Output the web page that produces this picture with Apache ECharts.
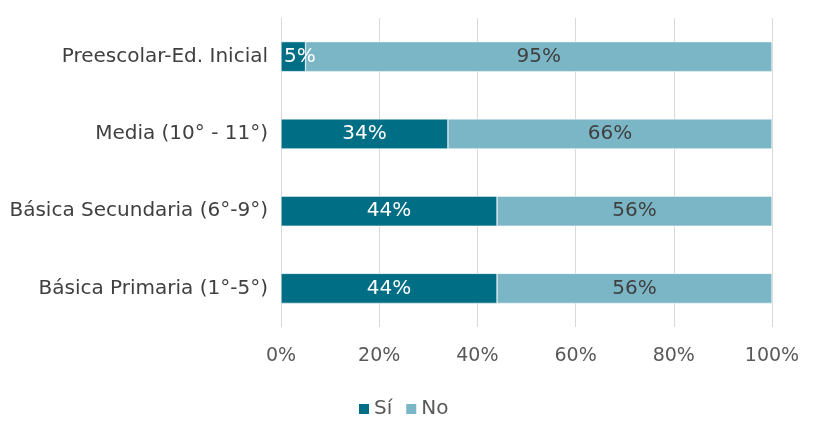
<!DOCTYPE html>
<html><head><meta charset="utf-8">
<script src="https://cdn.jsdelivr.net/npm/echarts@6/dist/echarts.min.js"></script>
<style>html,body{margin:0;padding:0;background:#fff}#c{width:814px;height:422px}</style>
</head><body><div id="c"></div>
<script>
const categories = ['Básica Primaria (1°-5°)', 'Básica Secundaria (6°-9°)', 'Media (10° - 11°)', 'Preescolar-Ed. Inicial'];
const si = [44, 44, 34, 5];
const no = [56, 56, 66, 95];
const xTicks = [0, 20, 40, 60, 80, 100];
const font = '"DejaVu Sans", sans-serif';
const chart = echarts.init(document.getElementById('c'));
chart.setOption({
  animation: false,
  grid: { left: 281, right: 42, top: 18, bottom: 95, containLabel: false },
  legend: {
    top: 399, left: 357, padding: 0, itemWidth: 12, itemHeight: 12, itemGap: 12,
    icon: 'rect',
    textStyle: { fontFamily: font, fontSize: 20, color: '#595959', padding: [0,0,0,-1] },
    data: ['Sí', 'No']
  },
  xAxis: {
    type: 'value', min: 0, max: 100, interval: 20,
    axisLabel: { formatter: v => v + '%', fontFamily: font, fontSize: 19, color: '#595959', margin: 20 },
    splitLine: { show: true, lineStyle: { color: '#d9d9d9', width: 1 } },
    axisLine: { show: false }, axisTick: { show: false }
  },
  yAxis: {
    type: 'category', data: categories,
    axisLabel: { fontFamily: font, fontSize: 20, color: '#404040', margin: 13 },
    axisLine: { show: true, lineStyle: { color: '#d9d9d9' } },
    axisTick: { show: false }
  },
  series: [
    { name: 'Sí', type: 'bar', stack: 't', barWidth: 30,
      data: si.map(v => v < 10 ? { value: v, label: { position: 'insideLeft', distance: 3 } } : v),
      itemStyle: { color: '#006e85', borderColor: '#ffffff', borderWidth: 0.5 },
      label: { show: true, position: 'inside', formatter: p => p.value + '%', fontFamily: font, fontSize: 20, color: '#ffffff' } },
    { name: 'No', type: 'bar', stack: 't', data: no, barWidth: 30,
      itemStyle: { color: '#7bb6c7', borderColor: '#ffffff', borderWidth: 0.5 },
      label: { show: true, position: 'inside', formatter: p => p.value + '%', fontFamily: font, fontSize: 20, color: '#404040' } }
  ]
});
</script></body></html>
